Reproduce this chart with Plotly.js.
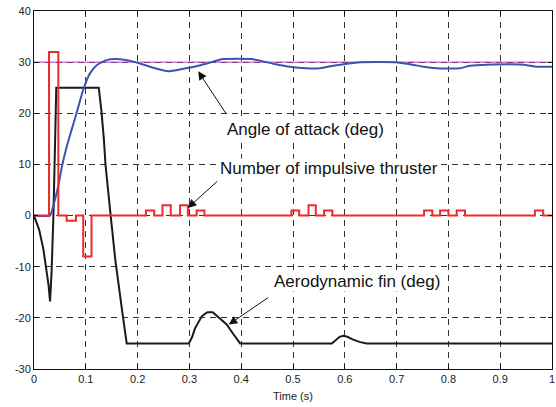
<!DOCTYPE html>
<html>
<head>
<meta charset="utf-8">
<script src="https://cdn.plot.ly/plotly-3.0.1.min.js"></script>
<style>html,body{margin:0;padding:0;background:#fff;}#chart{width:556px;height:407px;}</style>
</head>
<body>
<div id="chart"></div>
<script>
// Reference angle of attack (deg)
const refT = [0, 1];
const refV = [30, 30];

// Angle of attack (deg)
const aoaT = [0, 0.031, 0.037, 0.047, 0.054, 0.063, 0.073, 0.082, 0.095, 0.108, 0.121, 0.14, 0.16, 0.192, 0.224, 0.259, 0.288, 0.317, 0.346, 0.365, 0.42, 0.462, 0.494, 0.526, 0.552, 0.578, 0.604, 0.63, 0.697, 0.726, 0.752, 0.777, 0.822, 0.842, 0.874, 0.945, 0.97, 1.0];
const aoaV = [0, 0, 1.8, 5.9, 9.6, 13.4, 16.9, 20, 24.6, 27.8, 29.4, 30.4, 30.6, 30.1, 29.1, 28.2, 28.7, 29.3, 30.1, 30.6, 30.6, 29.7, 29.1, 28.8, 28.8, 29.3, 29.7, 30.0, 30.0, 29.6, 29.1, 28.8, 28.8, 29.3, 29.5, 29.5, 29.1, 29.1];

// Number of impulsive thruster (step signal)
const thrT = [0, 0.029, 0.047, 0.063, 0.081, 0.095, 0.111, 0.216, 0.232, 0.248, 0.264, 0.282, 0.297, 0.314, 0.329, 0.497, 0.512, 0.53, 0.544, 0.56, 0.576, 0.753, 0.769, 0.784, 0.8, 0.816, 0.832, 0.967, 0.983, 1.0];
const thrV = [0, 32, 0, -1, 0, -8, 0, 1, 0, 2, 0, 2, 0, 1, 0, 1, 0, 2, 0, 1, 0, 1, 0, 1, 0, 1, 0, 1, 0, 0];

// Aerodynamic fin (deg)
const finT = [0, 0.01, 0.018, 0.024, 0.028, 0.031, 0.034, 0.0375, 0.041, 0.043, 0.125, 0.130, 0.135, 0.138, 0.148, 0.157, 0.172, 0.179, 0.299, 0.305, 0.311, 0.318, 0.324, 0.33, 0.335, 0.345, 0.352, 0.36, 0.372, 0.385, 0.398, 0.575, 0.582, 0.59, 0.597, 0.605, 0.615, 0.628, 0.642, 1.0];
const finV = [0, -2.8, -6.5, -10.5, -13.5, -16.8, -10.9, 0, 15, 25, 25, 20.6, 14.8, 10, 0, -8.7, -20, -25, -25, -23.8, -22, -20.7, -19.7, -19.2, -18.9, -18.9, -19.5, -20.3, -21.3, -23.2, -25, -25, -24.3, -23.7, -23.5, -23.7, -24.2, -24.7, -25, -25];

const xTicks = [0, 0.1, 0.2, 0.3, 0.4, 0.5, 0.6, 0.7, 0.8, 0.9, 1];
const xTickText = ['0', '0.1', '0.2', '0.3', '0.4', '0.5', '0.6', '0.7', '0.8', '0.9', '1'];
const yTicks = [-30, -20, -10, 0, 10, 20, 30, 40];
const yTickText = ['-30', '-20', '-10', '0', '10', '20', '30', '40'];

const labels = ['Angle of attack (deg)', 'Number of impulsive thruster', 'Aerodynamic fin (deg)'];
const labelPos = [[0.37, 16.9], [0.357, 9.3], [0.461, -12.9]];
const arrowHead = [[0.317, 28.2], [0.297, 1.5], [0.376, -21.3]];
const arrowOff = [[29, 44], [31, -28], [41, -28]];

const traces = [
  {x: refT, y: refV, mode: 'lines', line: {color: '#b43cb4', width: 1}, hoverinfo: 'skip'},
  {x: finT, y: finV, mode: 'lines', line: {color: '#1a1a1a', width: 2}},
  {x: aoaT, y: aoaV, mode: 'lines', line: {color: '#3a55b0', width: 2, shape: 'spline', smoothing: 0.5}},
  {x: thrT, y: thrV, mode: 'lines', line: {color: '#ee2a2a', width: 2, shape: 'hv'}}
];

const annotations = [];
for (let i = 0; i < labels.length; i++) {
  annotations.push({x: labelPos[i][0], y: labelPos[i][1], xref: 'x', yref: 'y', text: labels[i],
    showarrow: false, xanchor: 'left', yanchor: 'middle', bgcolor: '#fff', borderpad: 0,
    font: {size: 17, color: '#111'}});
  annotations.push({x: arrowHead[i][0], y: arrowHead[i][1], xref: 'x', yref: 'y', text: '',
    showarrow: true, ax: arrowOff[i][0], ay: arrowOff[i][1], arrowhead: 2, arrowsize: 1.7,
    arrowwidth: 1, arrowcolor: '#111', standoff: 0, startstandoff: 0});
}

const axisCommon = {
  showline: true, linecolor: '#111', linewidth: 1, mirror: 'ticks',
  ticks: 'inside', ticklen: 4, tickcolor: '#111',
  showgrid: true, gridcolor: '#333', gridwidth: 1, griddash: '6px,5px',
  zeroline: false, tickfont: {size: 11, color: '#222'}
};

const layout = {
  width: 556, height: 407,
  margin: {l: 34, r: 4, t: 11, b: 38},
  paper_bgcolor: '#fff', plot_bgcolor: '#fff',
  showlegend: false,
  font: {family: 'Liberation Sans, Arial, sans-serif', color: '#222'},
  xaxis: Object.assign({}, axisCommon, {range: [0, 1], tickvals: xTicks, ticktext: xTickText,
    title: {text: 'Time (s)', font: {size: 11, color: '#222'}, standoff: 8}}),
  yaxis: Object.assign({}, axisCommon, {range: [-30, 40], tickvals: yTicks, ticktext: yTickText}),
  annotations: annotations
};

Plotly.newPlot('chart', traces, layout, {staticPlot: true, displayModeBar: false});
</script>
</body>
</html>
